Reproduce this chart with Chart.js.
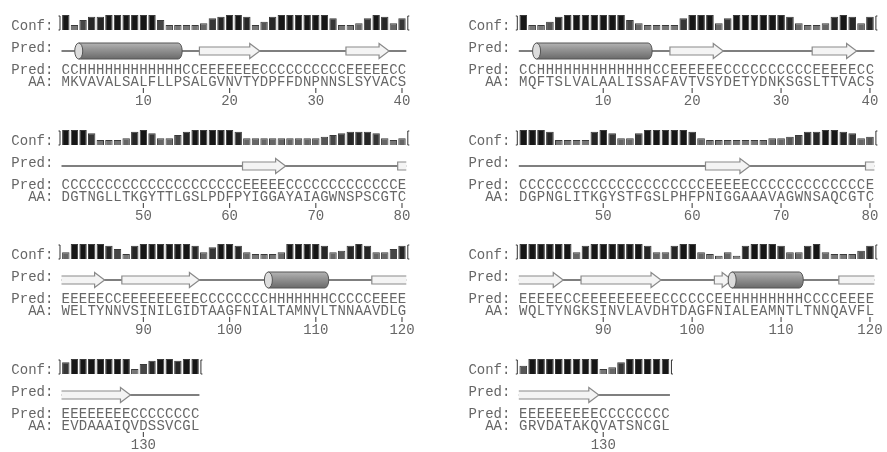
<!DOCTYPE html>
<html>
<head>
<meta charset="utf-8">
<script src="https://cdn.jsdelivr.net/npm/chart.js@4.4.1/dist/chart.umd.min.js"></script>
<style>
  body { margin: 0; background: #fff; width: 887px; height: 452px; overflow: hidden; position: relative; }
  .blk { position: absolute; }
</style>
</head>
<body>
<script>
// --- sequences (left protein / right protein), 40 residues per row ---
const aaL1 = "MKVAVALSALFLLPSALGVNVTYDPFFDNPNNSLSYVACS";
const aaL2 = "DGTNGLLTKGYTTLGSLPDFPYIGGAYAIAGWNSPSCGTC";
const aaL3 = "WELTYNNVSINILGIDTAAGFNIALTAMNVLTNNAAVDLG";
const aaL4 = "EVDAAAIQVDSSVCGL";
const aaR1 = "MQFTSLVALAALISSAFAVTVSYDETYDNKSGSLTTVACS";
const aaR2 = "DGPNGLITKGYSTFGSLPHFPNIGGAAAVAGWNSAQCGTC";
const aaR3 = "WQLTYNGKSINVLAVDHTDAGFNIALEAMNTLTNNQAVFL";
const aaR4 = "GRVDATAKQVATSNCGL";

// --- predicted secondary structure (H helix, E strand, C coil) ---
const predL1 = "CC" + "HHHHHHHHHHHH" + "CC" + "EEEEEEE" + "CCCCCCCCCC" + "EEEEE" + "CC";
const predL2 = "CCCCCCCCCCCCCCCCCCCCC" + "EEEEE" + "CCCCCCCCCCCCC" + "E";
const predL3 = "EEEEE" + "CC" + "EEEEEEEEE" + "CCCCCCCC" + "HHHHHHH" + "CCCCC" + "EEEE";
const predL4 = "EEEEEEEE" + "CCCCCCCC";
const predR1 = "CC" + "HHHHHHHHHHHHH" + "CC" + "EEEEEE" + "CCCCCCCCCC" + "EEEEE" + "CC";
const predR2 = "CCCCCCCCCCCCCCCCCCCCC" + "EEEEE" + "CCCCCCCCCCCCC" + "E";
const predR3 = "EEEEE" + "CC" + "EEEEEEEEE" + "CCCCCC" + "EE" + "HHHHHHHH" + "CCCC" + "EEEE";
const predR4 = "EEEEEEEEE" + "CCCCCCCC";

// --- confidence (0-9) ---
const confL1 = [9,3,6,8,8,9,9,9,9,9, 9,6,3,3,3,3,4,7,8,9, 9,8,3,5,8,9,9,9,9,9, 9,7,3,3,4,7,9,8,4,7];
const confL2 = [9,9,9,7,3,3,3,4,8,9, 7,4,4,6,8,9,9,9,9,9, 8,4,4,4,4,4,4,4,4,4, 5,6,7,8,8,8,7,4,3,4];
const confL3 = [4,9,9,9,9,8,6,3,8,9, 9,9,9,9,9,8,4,7,9,9, 8,4,3,3,3,4,9,9,9,9, 8,4,5,8,9,8,4,4,6,8];
const confL4 = [7,9,9,9,9,9,9,9,3,6, 8,9,9,8,9,9];
const confR1 = [9,3,3,5,8,9,9,9,9,9, 9,9,6,4,3,3,3,3,7,9, 9,9,4,7,9,9,9,9,9,9, 8,4,3,3,4,8,9,8,4,8];
const confR2 = [9,9,9,8,3,3,3,3,8,9, 7,4,4,7,9,9,9,9,9,8, 4,3,3,3,3,3,3,3,4,4, 5,6,8,8,9,9,8,7,4,5];
const confR3 = [9,9,9,9,9,9,4,8,9,9, 9,9,9,9,8,4,4,8,9,9, 4,3,2,4,2,8,9,9,9,8, 4,4,8,9,4,3,3,3,5,8];
const confR4 = [5,9,9,9,9,9,9,9,9,3, 4,7,9,9,9,9,9];

const firstResidue = [1, 41, 81, 121];

// layout of the two panels
const cols = [
  { left: 0,   width: 440, start: 61.5, pitch: 8.62 },
  { left: 440, width: 447, start: 78.8, pitch: 8.89 }
];
const rowTops = [0, 115, 229, 344];
const BLK_H = 112;
const FONT = '14px "Liberation Mono", "DejaVu Sans Mono", monospace';
const TXT = '#666';

function shade(v) {
  const g = Math.round(22 + (9 - v) * 16);
  return 'rgb(' + g + ',' + g + ',' + g + ')';
}

function drawHelix(ctx, xs, xe, cy) {
  const h = 16, rx = 4, top = cy - h / 2, bot = cy + h / 2;
  const g = ctx.createLinearGradient(0, top, 0, bot);
  g.addColorStop(0, '#b4b4b4');
  g.addColorStop(0.3, '#9c9c9c');
  g.addColorStop(1, '#6a6a6a');
  ctx.beginPath();
  ctx.moveTo(xs, top);
  ctx.lineTo(xe - rx, top);
  ctx.ellipse(xe - rx, cy, rx, h / 2, 0, -Math.PI / 2, Math.PI / 2);
  ctx.lineTo(xs, bot);
  ctx.closePath();
  ctx.fillStyle = g;
  ctx.fill();
  ctx.strokeStyle = '#555';
  ctx.lineWidth = 1;
  ctx.stroke();
  ctx.beginPath();
  ctx.ellipse(xs, cy, rx, h / 2, 0, 0, Math.PI * 2);
  ctx.fillStyle = '#dcdcdc';
  ctx.fill();
  ctx.stroke();
}

function drawStrand(ctx, xs, xe, cy, openL, openR) {
  const bh = 4, hh = 7.5, hl = 10;
  ctx.fillStyle = '#f4f4f4';
  ctx.strokeStyle = '#8a8a8a';
  ctx.lineWidth = 1.2;
  ctx.beginPath();
  if (openR) {
    ctx.rect(xs, cy - bh, xe - xs, bh * 2);
    ctx.fill();
    ctx.beginPath();
    ctx.moveTo(xe, cy - bh);
    ctx.lineTo(xs, cy - bh);
    if (!openL) ctx.lineTo(xs, cy + bh); else ctx.moveTo(xs, cy + bh);
    ctx.lineTo(xe, cy + bh);
    ctx.stroke();
    return;
  }
  const hx = Math.max(xs + 1, xe - hl);
  ctx.moveTo(xs, cy - bh);
  ctx.lineTo(hx, cy - bh);
  ctx.lineTo(hx, cy - hh);
  ctx.lineTo(xe, cy);
  ctx.lineTo(hx, cy + hh);
  ctx.lineTo(hx, cy + bh);
  ctx.lineTo(xs, cy + bh);
  if (!openL) ctx.closePath();
  ctx.fill();
  ctx.stroke();
}

const seqPlugin = {
  id: 'seq',
  afterDatasetsDraw(chart, args, o) {
    const ctx = chart.ctx, xs = chart.scales.x, a = chart.chartArea;
    const n = o.aa.length, p = (a.right - a.left) / n;
    const y0 = a.top - 15;
    const lx = a.left - p + 0.5;
    ctx.save();
    ctx.font = FONT;
    ctx.fillStyle = TXT;
    ctx.textBaseline = 'alphabetic';
    ctx.textAlign = 'right';
    ctx.fillText('Conf:', lx, y0 + 30);
    ctx.fillText('Pred:', lx, y0 + 51.5);
    ctx.fillText('Pred:', lx, y0 + 74);
    ctx.fillText('AA:', lx, y0 + 85.5);

    // end brackets of the confidence row
    ctx.strokeStyle = '#333';
    ctx.lineWidth = 1;
    ctx.beginPath();
    ctx.moveTo(a.left - 3, a.top + 1); ctx.lineTo(a.left - 1.5, a.top + 1);
    ctx.lineTo(a.left - 1.5, a.bottom); ctx.lineTo(a.left - 3, a.bottom);
    ctx.moveTo(a.right + 3, a.top + 1); ctx.lineTo(a.right + 1.5, a.top + 1);
    ctx.lineTo(a.right + 1.5, a.bottom); ctx.lineTo(a.right + 3, a.bottom);
    ctx.stroke();

    // cartoon
    const cy = y0 + 51;
    ctx.strokeStyle = '#555';
    ctx.lineWidth = 1.4;
    ctx.beginPath();
    ctx.moveTo(a.left, cy);
    ctx.lineTo(a.right, cy);
    ctx.stroke();
    let i = 0;
    while (i < n) {
      const c = o.pred[i];
      let j = i;
      while (j + 1 < n && o.pred[j + 1] === c) j++;
      const x1 = xs.getPixelForValue(i) - p / 2, x2 = xs.getPixelForValue(j) + p / 2;
      if (c === 'H') drawHelix(ctx, x1, x2, cy);
      if (c === 'E') drawStrand(ctx, x1, x2, cy, i === 0 && o.prevE, j === n - 1 && o.nextE);
      i = j + 1;
    }

    // sequence strings
    ctx.fillStyle = TXT;
    ctx.textAlign = 'center';
    for (let k = 0; k < n; k++) {
      const x = xs.getPixelForValue(k);
      ctx.fillText(o.pred[k], x, y0 + 74);
      ctx.fillText(o.aa[k], x, y0 + 85.5);
      const num = o.first + k;
      if (num % 10 === 0) {
        ctx.strokeStyle = '#555';
        ctx.lineWidth = 1.2;
        ctx.beginPath();
        ctx.moveTo(x, y0 + 88);
        ctx.lineTo(x, y0 + 93);
        ctx.stroke();
        ctx.fillText(String(num), x, y0 + 105);
      }
    }
    ctx.restore();
  }
};

const blocks = [
  { col: 0, row: 0, aa: aaL1, pred: predL1, conf: confL1 },
  { col: 0, row: 1, aa: aaL2, pred: predL2, conf: confL2 },
  { col: 0, row: 2, aa: aaL3, pred: predL3, conf: confL3 },
  { col: 0, row: 3, aa: aaL4, pred: predL4, conf: confL4 },
  { col: 1, row: 0, aa: aaR1, pred: predR1, conf: confR1 },
  { col: 1, row: 1, aa: aaR2, pred: predR2, conf: confR2 },
  { col: 1, row: 2, aa: aaR3, pred: predR3, conf: confR3 },
  { col: 1, row: 3, aa: aaR4, pred: predR4, conf: confR4 }
];

blocks.forEach((b, idx) => {
  const c = cols[b.col];
  const div = document.createElement('div');
  div.className = 'blk';
  div.style.left = c.left + 'px';
  div.style.top = rowTops[b.row] + 'px';
  div.style.width = c.width + 'px';
  div.style.height = BLK_H + 'px';
  const cv = document.createElement('canvas');
  div.appendChild(cv);
  document.body.appendChild(div);

  const n = b.aa.length;
  const prev = blocks[idx - 1], next = blocks[idx + 1];
  const prevE = b.row > 0 && prev && prev.col === b.col && prev.pred[prev.pred.length - 1] === 'E' && b.pred[0] === 'E';
  const nextE = next && next.col === b.col && next.pred[0] === 'E' && b.pred[n - 1] === 'E';

  new Chart(cv, {
    type: 'bar',
    data: {
      labels: b.aa.split('').map((_, k) => String(firstResidue[b.row] + k)),
      datasets: [{
        data: b.conf,
        backgroundColor: b.conf.map(shade),
        borderColor: '#3a3a3a',
        borderWidth: 1,
        barPercentage: 0.86,
        categoryPercentage: 1
      }]
    },
    options: {
      responsive: true,
      maintainAspectRatio: false,
      animation: false,
      events: [],
      layout: {
        padding: {
          left: c.start,
          right: c.width - c.start - n * c.pitch,
          top: 15,
          bottom: BLK_H - 30
        }
      },
      scales: {
        x: { display: false },
        y: { display: false, min: 0, max: 9 }
      },
      plugins: {
        legend: { display: false },
        tooltip: { enabled: false },
        seq: { aa: b.aa, pred: b.pred, first: firstResidue[b.row], prevE: prevE, nextE: nextE }
      }
    },
    plugins: [seqPlugin]
  });
});
</script>
</body>
</html>
